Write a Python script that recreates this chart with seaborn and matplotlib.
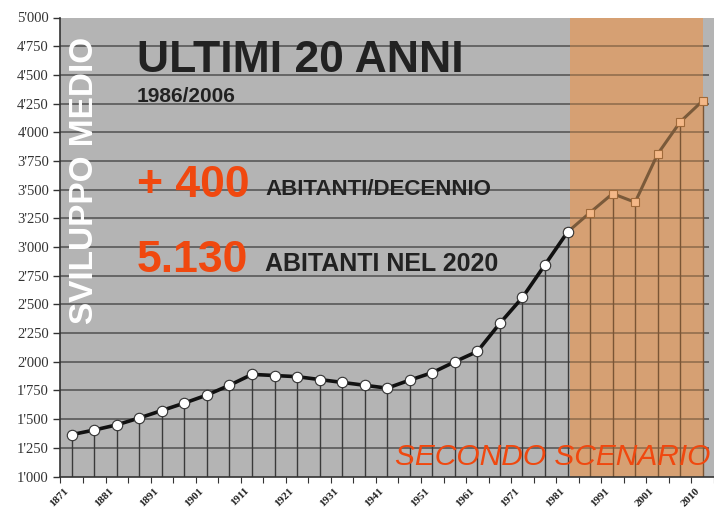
import numpy as np
import pandas as pd
import matplotlib
matplotlib.use("Agg")
import matplotlib.pyplot as plt
import matplotlib.transforms as mtransforms
import seaborn as sns

# ---- data ----
tick_labels = ["1871", "1881", "1891", "1901", "1911", "1921", "1931", "1941",
               "1951", "1961", "1971", "1981", "1991", "2001", "2010"]
hist_values = [1365, 1405, 1450, 1510, 1575, 1640, 1710, 1795, 1890, 1880,
               1870, 1845, 1820, 1795, 1770, 1840, 1905, 2000, 2090, 2335,
               2560, 2845, 3130]
scen_values = [3130, 3300, 3465, 3390, 3810, 4090, 4275]
y_ticks = [1000, 1250, 1500, 1750, 2000, 2250, 2500, 2750, 3000, 3250, 3500,
           3750, 4000, 4250, 4500, 4750, 5000]

n_hist = len(hist_values)
hist_df = pd.DataFrame({"idx": np.arange(n_hist), "val": hist_values})
scen_df = pd.DataFrame({"idx": np.arange(n_hist - 1, n_hist - 1 + len(scen_values)),
                        "val": scen_values})
n_total = n_hist - 1 + len(scen_values)

GREY = "#b4b4b4"
ORANGE = "#d6a073"
GRID_G = "#505050"
GRID_O = "#8c6a4a"
RED = "#f0480f"
DARK = "#222222"

sns.set_theme(style="white")
plt.rcParams["font.family"] = ["Liberation Sans", "DejaVu Sans"]

fig = plt.figure(figsize=(7.14, 5.12), dpi=100)
ax = fig.add_axes([60 / 714, 1 - 476.5 / 512, 1 - 60 / 714, (476.5 - 17.5) / 512])
ax.set_facecolor(GREY)

x_lo, x_hi = -0.52, 28.3
ax.set_xlim(x_lo, x_hi)
ax.set_ylim(1000, 5000)

span_start = n_hist - 1 + 0.12
span_end = n_total - 1
ax.axvspan(span_start, span_end, color=ORANGE, zorder=0.5, lw=0)

# horizontal gridlines
for yv in y_ticks[1:-1]:
    ax.hlines(yv, x_lo, span_start, color=GRID_G, lw=1.1, zorder=1)
    ax.hlines(yv, span_start, span_end, color=GRID_O, lw=1.1, zorder=1)
    ax.hlines(yv, span_end, x_hi, color=GRID_G, lw=1.1, zorder=1)

# drop lines
ax.vlines(hist_df["idx"], 1000, hist_df["val"], color="#3a3a3a", lw=1.0, zorder=2)
ax.vlines(scen_df["idx"][1:], 1000, scen_df["val"][1:], color="#7a5535", lw=1.0, zorder=2)

sns.lineplot(data=scen_df, x="idx", y="val", ax=ax, color="#7a5a3a", lw=2.2,
             marker="s", markersize=6, markerfacecolor="#f4b888",
             markeredgecolor="#a06a3a", markeredgewidth=0.8, zorder=3)
sns.lineplot(data=hist_df, x="idx", y="val", ax=ax, color="#111111", lw=2.6,
             marker="o", markersize=7.5, markerfacecolor="white",
             markeredgecolor="#333333", markeredgewidth=0.8, zorder=4)

ax.set_xlabel("")
ax.set_ylabel("")

# ticks
ax.set_yticks(y_ticks)
ax.set_yticklabels([f"{v // 1000}'{v % 1000:03d}" for v in y_ticks],
                   family=["Liberation Serif", "DejaVu Serif"], fontsize=10.5,
                   color="#333333")
ax.tick_params(axis="y", length=5, width=1, color="#333333", left=True, pad=3)

ax.set_xticks(np.arange(0, n_total, 2))
ax.set_xticklabels(tick_labels, rotation=45, ha="right", rotation_mode="anchor",
                   family=["Liberation Serif", "DejaVu Serif"], fontsize=8,
                   fontweight="bold", color="#222222")
ax.tick_params(axis="x", length=0, pad=7)
offset = mtransforms.ScaledTranslation(-8 / 100, 0, fig.dpi_scale_trans)
for lab in ax.get_xticklabels():
    lab.set_transform(lab.get_transform() + offset)
ax.set_xticks(np.arange(-0.5, n_total, 1), minor=True)
ax.tick_params(axis="x", which="minor", length=4, width=0.8, color="#333333",
               bottom=True)

for s in ["top", "right"]:
    ax.spines[s].set_visible(False)
ax.spines["left"].set_color("#333333")
ax.spines["bottom"].set_color("#333333")
ax.spines["left"].set_linewidth(1.2)
ax.spines["bottom"].set_linewidth(1.2)


def ftext(px, py, s, **kw):
    fig.text(px / 714, 1 - py / 512, s, **kw)


ftext(137, 72, "ULTIMI 20 ANNI", fontsize=32, fontweight="bold", color=DARK,
      va="baseline", ha="left")
ftext(137, 102, "1986/2006", fontsize=15, fontweight="bold", color=DARK,
      va="baseline", ha="left")
ftext(137, 197, "+ 400", fontsize=32, fontweight="bold", color=RED,
      va="baseline", ha="left")
ftext(265, 195, "ABITANTI/DECENNIO", fontsize=16, fontweight="bold", color=DARK,
      va="baseline", ha="left")
ftext(137, 272, "5.130", fontsize=32, fontweight="bold", color=RED,
      va="baseline", ha="left")
ftext(265, 271, "ABITANTI NEL 2020", fontsize=18, fontweight="bold", color=DARK,
      va="baseline", ha="left")
ftext(85, 180, "SVILUPPO MEDIO", fontsize=24, fontweight="bold", color="white",
      rotation=90, va="center", ha="center")
ftext(395, 465, "SECONDO SCENARIO", fontsize=21.5, style="italic", color=RED,
      va="baseline", ha="left")

fig.savefig("out.png", dpi=100)
